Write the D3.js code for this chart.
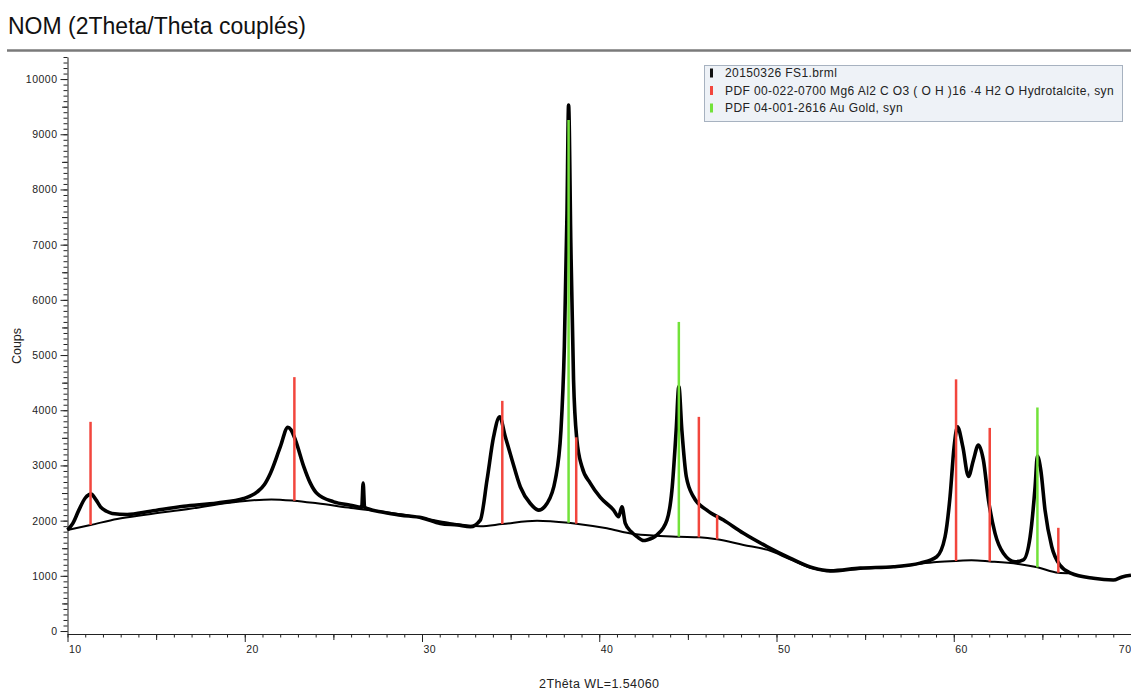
<!DOCTYPE html>
<html>
<head>
<meta charset="utf-8">
<script src="https://cdn.jsdelivr.net/npm/d3@7"></script>
<style>
  body { margin: 0; background: #fff; }
  svg { display: block; font-family: "Liberation Sans", Arial, sans-serif; }
</style>
</head>
<body>
<script>
// diffractogramme XRD

const width = 1131;
const height = 691;
const margin = {top: 57, left: 67.5, bottom: 57, right: 0};

// mesure (2theta, coups)
const twoTheta = [10.0, 10.3, 10.64, 11.0, 11.33, 11.6, 11.86, 12.2, 12.52, 13.37, 14.68, 16.56, 18.44, 19.94,
  20.7, 21.1, 21.45, 22.01, 22.43, 22.6, 22.86, 23.33, 23.7, 24.08, 25.02, 25.96, 26.6, 26.68, 26.76, 27.65,
  28.8, 30.0, 31.03, 32.0, 32.73, 33.29, 33.67, 34.04, 34.38, 34.7, 35.08, 35.55, 36.11, 36.58, 37.05, 37.52,
  37.84, 38.03, 38.18, 38.27, 38.4, 38.55, 38.74, 39.02, 39.49, 40.06, 40.81, 41.09, 41.28, 41.47, 41.8, 42.13,
  42.5, 42.69, 43.25, 43.82, 44.1, 44.34, 44.49, 44.66, 44.91, 45.32, 46.07, 47.01, 48.14, 49.46, 50.77, 52.09,
  53.03, 54.72, 56.6, 58.1, 59.04, 59.51, 59.79, 60.02, 60.21, 60.51, 60.83, 61.11, 61.39, 61.67, 61.96, 62.33,
  62.8, 63.46, 63.93, 64.31, 64.59, 64.72, 64.91, 65.15, 65.53, 66.0, 66.6, 67.88, 69.0, 69.5, 70.0];
const counts = [1830, 1950, 2190, 2410, 2480, 2380, 2250, 2170, 2130, 2110, 2170, 2260, 2320, 2400,
  2520, 2650, 2860, 3340, 3690, 3650, 3460, 2980, 2680, 2490, 2340, 2280, 2240, 2680, 2240, 2160,
  2100, 2050, 1950, 1920, 1890, 2010, 2740, 3520, 3880, 3520, 3100, 2610, 2310, 2190, 2310, 2740,
  3640, 5150, 7570, 9530, 6960, 4550, 3460, 2980, 2680, 2420, 2190, 2070, 2250, 1950, 1800, 1710,
  1640, 1650, 1740, 2010, 2550, 3640, 4430, 3640, 2800, 2430, 2190, 2010, 1770, 1530, 1320, 1140,
  1090, 1140, 1165, 1230, 1346, 1708, 2430, 3340, 3700, 3340, 2800, 3100, 3370, 3100, 2370, 1770,
  1410, 1256, 1290, 1708, 2614, 3170, 2917, 2190, 1527, 1190, 1050, 955, 924, 980, 1010];

// fond
const bgTheta = [10.0, 11.3, 12.8, 14.5, 17.0, 19.0, 20.3, 21.5, 22.76, 24.08, 26.0, 28.0, 30.0, 31.5, 33.3,
  34.53, 36.49, 38.27, 38.7, 40.43, 41.94, 44.49, 45.64, 46.64, 48.14, 49.5, 50.77, 52.09, 53.03, 54.72,
  56.6, 58.1, 59.04, 60.13, 61.0, 62.03, 63.74, 64.72, 65.9, 66.6];
const bgCounts = [1830, 1920, 2030, 2110, 2220, 2320, 2365, 2385, 2361, 2313, 2230, 2150, 2050, 1960, 1900,
  1938, 1998, 1960, 1945, 1860, 1757, 1708, 1697, 1661, 1558, 1470, 1300, 1130, 1085, 1130,
  1160, 1220, 1250, 1270, 1280, 1260, 1210, 1154, 1056, 1045];

// PDF 00-022-0700 hydrotalcite
const hydroPos = [11.3, 22.8, 34.53, 38.7, 45.62, 46.65, 60.13, 62.03, 65.9];
const hydroTop = [3790, 4600, 4170, 3510, 3880, 2100, 4560, 3680, 1870];
const hydroBase = [1920, 2360, 1938, 1945, 1697, 1661, 1270, 1260, 1056];

// PDF 04-001-2616 or
const goldPos = [38.27, 44.49, 64.72];
const goldTop = [9260, 5600, 4050];
const goldBase = [1960, 1708, 1154];

const xTicks = [10, 20, 30, 40, 50, 60, 70];
const yTicks = [0, 1000, 2000, 3000, 4000, 5000, 6000, 7000, 8000, 9000, 10000];

const legendLabels = [
  '20150326 FS1.brml',
  'PDF 00-022-0700 Mg6 Al2 C O3 ( O H )16 ·4 H2 O Hydrotalcite, syn',
  'PDF 04-001-2616 Au Gold, syn'
];
const legendColors = ['#111', '#f2463d', '#72e23a'];

const x = d3.scaleLinear()
    .domain([10, 70])
    .range([margin.left, width - margin.right]);

const y = d3.scaleLinear()
    .domain([-54, 10400])
    .range([height - margin.bottom, margin.top]);

const svg = d3.select('body').append('svg')
    .attr('width', width)
    .attr('height', height);

// titre
svg.append('text')
    .attr('x', 8)
    .attr('y', 34)
    .attr('font-size', 23)
    .attr('fill', '#111')
    .text('NOM (2Theta/Theta couplés)');

svg.append('line')
    .attr('x1', 7).attr('x2', width)
    .attr('y1', 50.5).attr('y2', 50.5)
    .attr('stroke', '#7a7a7a')
    .attr('stroke-width', 2.5);

// axes
const yAxis = (vals, size, labels) => g => g
    .attr('transform', `translate(${margin.left}, 0)`)
    .call(d3.axisLeft(y).tickValues(vals).tickSize(size).tickSizeOuter(0)
        .tickPadding(3).tickFormat(labels ? d3.format('d') : ''))
    .call(g => g.selectAll('line').attr('stroke', '#222'));

svg.append('g').call(yAxis(d3.range(0, 10401, 100), 4, false));
svg.append('g').call(yAxis(d3.range(500, 10401, 1000), 5.5, false))
    .call(g => g.select('.domain').remove());
svg.append('g').call(yAxis(yTicks, 7, true))
    .call(g => g.select('.domain').remove())
    .call(g => g.selectAll('text')
        .attr('font-size', 10.5)
        .attr('letter-spacing', 0.5)
        .attr('fill', '#222'));
svg.selectAll('.domain').attr('stroke', '#222');

const xAxis = (vals, size, labels) => g => g
    .attr('transform', `translate(0, ${height - margin.bottom})`)
    .call(d3.axisBottom(x).tickValues(vals).tickSize(size).tickSizeOuter(0)
        .tickPadding(4).tickFormat(labels ? d3.format('d') : ''))
    .call(g => g.selectAll('line').attr('stroke', '#222'))
    .call(g => g.select('.domain').attr('stroke', '#222'));

svg.append('g').call(xAxis(d3.range(10, 71, 1), 3.5, false));
svg.append('g').call(xAxis(d3.range(15, 71, 10), 6, false))
    .call(g => g.select('.domain').remove());
svg.append('g').call(xAxis(xTicks, 8, true))
    .call(g => g.select('.domain').remove())
    .call(g => g.selectAll('text')
        // le dernier libelle touche le bord droit
        .attr('text-anchor', d => d === 70 ? 'end' : 'start')
        .attr('x', d => d === 70 ? 0 : 1)
        .attr('font-size', 10.5)
        .attr('letter-spacing', 0.5)
        .attr('fill', '#222'));

// titres d'axes
svg.append('text')
    .attr('transform', 'translate(21, 346) rotate(-90)')
    .attr('text-anchor', 'middle')
    .attr('font-size', 12.5)
    .attr('fill', '#222')
    .text('Coups');

svg.append('text')
    .attr('x', (x(10) + x(70)) / 2)
    .attr('y', 688)
    .attr('text-anchor', 'middle')
    .attr('font-size', 12.5)
    .attr('letter-spacing', 0.4)
    .attr('fill', '#222')
    .text('2Thêta WL=1.54060');

// courbes
const pattern = twoTheta.map((t, i) => [t, counts[i]]);
const background = bgTheta.map((t, i) => [t, bgCounts[i]]);

const line = d3.line()
    .x(d => x(d[0]))
    .y(d => y(d[1]))
    .curve(d3.curveMonotoneX);

svg.append('path')
    .datum(background)
    .attr('d', line)
    .attr('fill', 'none')
    .attr('stroke', '#000')
    .attr('stroke-width', 2);

svg.append('path')
    .datum(pattern)
    .attr('d', line)
    .attr('fill', 'none')
    .attr('stroke', '#000')
    .attr('stroke-width', 3.6)
    .attr('stroke-linejoin', 'round');

// raies de reference
const sticks = (pos, top, base, color) => svg.append('g')
    .attr('stroke', color)
    .attr('stroke-width', 2.5)
    .selectAll('line').data(pos).enter().append('line')
    .attr('x1', d => x(d)).attr('x2', d => x(d))
    .attr('y1', (d, i) => y(base[i]))
    .attr('y2', (d, i) => y(top[i]));

sticks(hydroPos, hydroTop, hydroBase, legendColors[1]);
sticks(goldPos, goldTop, goldBase, legendColors[2]);

// legende
const legend = svg.append('g');
legend.append('rect')
    .attr('x', 704.5).attr('y', 65.5)
    .attr('width', 418).attr('height', 56)
    .attr('fill', '#eef2f7')
    .attr('stroke', '#a7b2c0');

const rows = legend.selectAll('g').data(legendLabels).enter().append('g')
    .attr('transform', (d, i) => `translate(0, ${77 + i * 17.5})`);
rows.append('rect')
    .attr('x', 710).attr('y', -8.5)
    .attr('width', 3).attr('height', 9)
    .attr('fill', (d, i) => legendColors[i]);
rows.append('text')
    .attr('x', 725)
    .attr('font-size', 12)
    .attr('letter-spacing', 0.4)
    .attr('fill', '#222')
    .text(d => d);
</script>
</body>
</html>
